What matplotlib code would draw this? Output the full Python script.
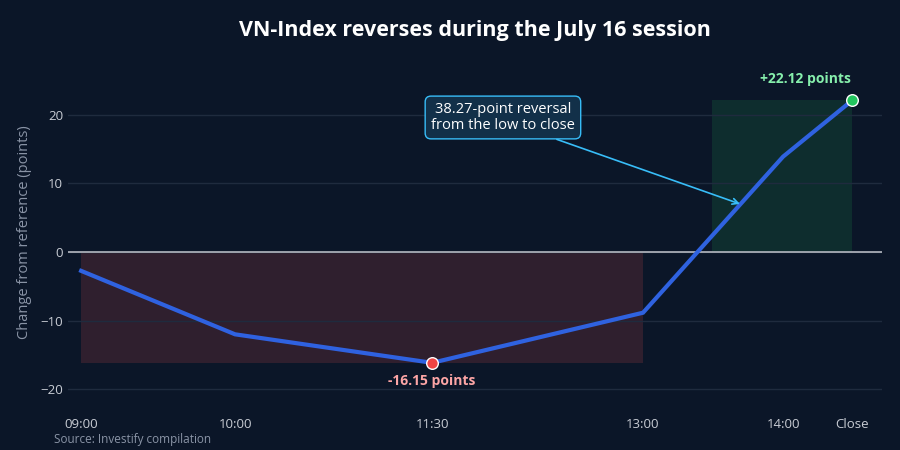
import matplotlib.pyplot as plt

# session checkpoints (x positions follow the reference's uneven spacing)
labels = ["09:00", "10:00", "11:30", "13:00", "14:00", "Close"]
x_pos = [0.0, 1.0, 2.28, 3.65, 4.56, 5.01]
change = [-2.75, -12.0, -16.15, -8.85, 13.9, 22.12]
green_start = 4.10  # ~13:30, where the green band begins

bg = "#0b1628"
plt.rcParams['font.family'] = ['Open Sans', 'DejaVu Sans']

fig = plt.figure(figsize=(9, 4.5), dpi=100, facecolor=bg)
ax = fig.add_axes([0.0756, 0.10, 0.904, 0.767], facecolor=bg)

# shaded bands: loss phase and gain phase
ax.fill_between([x_pos[0], x_pos[3]], 0, min(change), color="#2f1f2e", lw=0, zorder=1)
ax.fill_between([green_start, x_pos[-1]], 0, change[-1], color="#0e2d2e", lw=0, zorder=1)

ax.axhline(0, color="#b4b8c0", lw=1.2, zorder=2)
ax.plot(x_pos, change, color="#2f62e0", lw=3, zorder=3, solid_joinstyle='miter')

ax.scatter([x_pos[2]], [change[2]], s=70, color="#ef4444", edgecolors="white", linewidths=1, zorder=4)
ax.scatter([x_pos[-1]], [change[-1]], s=70, color="#22c55e", edgecolors="white", linewidths=1, zorder=4)

ax.annotate("-16.15 points", (x_pos[2], change[2]), xytext=(0, -13), textcoords='offset points',
            ha='center', va='center', color="#fca5a5", fontsize=10, fontweight='bold')
ax.annotate("+22.12 points", (x_pos[-1], change[-1]), xytext=(-1, 15), textcoords='offset points',
            ha='right', va='center', color="#86efac", fontsize=10, fontweight='bold')

ax.annotate("38.27-point reversal\nfrom the low to close", xy=(4.28, 7.0), xytext=(2.74, 19.6),
            ha='center', va='center', color="white", fontsize=10.5, linespacing=1.1,
            bbox=dict(boxstyle="round,pad=0.4,rounding_size=0.4", fc="#123049", ec="#38bdf8", lw=1),
            arrowprops=dict(arrowstyle="->", color="#38bdf8", lw=1.2, shrinkA=0, shrinkB=0,
                            relpos=(0.75, 0.0)), zorder=5)

ax.set_xlim(-0.085, 5.2)
ax.set_ylim(-22.3, 28)
ax.set_xticks(x_pos)
ax.set_xticklabels(labels)
ax.set_yticks([-20, -10, 0, 10, 20])
ax.tick_params(colors="#c8ccd4", labelsize=9.5, length=0)
ax.tick_params(axis='x', pad=9)
ax.grid(axis='y', color="#1f2b3e", lw=1)
for s in ax.spines.values():
    s.set_visible(False)

ax.set_ylabel("Change from reference (points)", color="#8a94a6", fontsize=10.5, labelpad=6)
ax.set_title("VN-Index reverses during the July 16 session", color="white",
             fontsize=15.5, fontweight='bold', pad=17)
fig.text(0.06, 0.016, "Source: Investify compilation", color="#8a94a6", fontsize=8.5)

fig.savefig("out.png", dpi=100, facecolor=bg)
